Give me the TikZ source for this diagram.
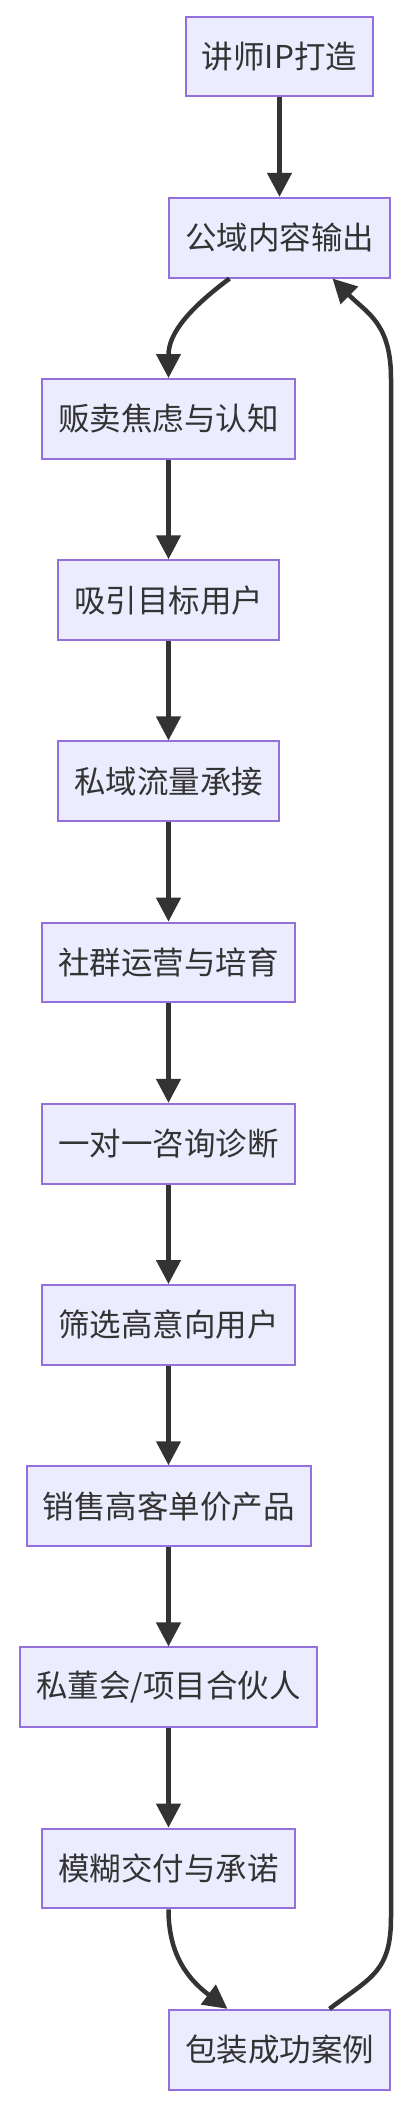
\documentclass[tikz,border=0pt]{standalone}
\usepackage{fontspec}
\setmainfont{Noto Sans CJK SC}
\usetikzlibrary{
  positioning,
  arrows.meta
}
\definecolor{boxfill}{HTML}{ECECFF}
\definecolor{boxline}{HTML}{9370DB}
\definecolor{ink}{HTML}{333333}

\begin{document}
\begin{tikzpicture}[
    x=1pt, y=1pt,
    node distance=99.5pt,
    stage/.style={
      rectangle,
      draw=boxline,
      fill=boxfill,
      line width=2pt,
      text=ink,
      font=\fontsize{31.5pt}{38pt}\selectfont,
      inner xsep=16pt,
      inner ysep=0pt,
      minimum height=79.7pt
    },
    flow/.style={
      draw=ink,
      line width=4.5pt,
      -{Triangle[length=24pt,width=24pt]}
    }
  ]
  \useasboundingbox (0,0) rectangle (408,-2108);

  \begin{scope}
    \node[stage] (ip) at (279.5,-56.5) {讲师IP打造};
    \node[stage, below=of ip] (public) {公域内容输出};
    \node[stage, below=of public, xshift=-111pt] (anxiety) {贩卖焦虑与认知};
    \node[stage, below=of anxiety] (attract) {吸引目标用户};
    \node[stage, below=of attract] (private) {私域流量承接};
    \node[stage, below=of private] (community) {社群运营与培育};
    \node[stage, below=of community] (consult) {一对一咨询诊断};
    \node[stage, below=of consult] (filter) {筛选高意向用户};
    \node[stage, below=of filter] (sell) {销售高客单价产品};
    \node[stage, below=of sell] (board) {私董会/项目合伙人};
    \node[stage, below=of board] (vague) {模糊交付与承诺};
    \node[stage, below=of vague, xshift=111pt] (cases) {包装成功案例};

    \draw[flow] (ip) -- (public);
    \draw[flow] ([xshift=-50pt]public.south) .. controls +(-40,-30) and +(0,45) .. (anxiety.north);
    \draw[flow] (anxiety) -- (attract);
    \draw[flow] (attract) -- (private);
    \draw[flow] (private) -- (community);
    \draw[flow] (community) -- (consult);
    \draw[flow] (consult) -- (filter);
    \draw[flow] (filter) -- (sell);
    \draw[flow] (sell) -- (board);
    \draw[flow] (board) -- (vague);
    \draw[flow] (vague.south) .. controls +(0,-45) and +(-40,30) .. ([xshift=-52pt]cases.north);
    % loop back up the right side
    \draw[flow] ([xshift=50pt]cases.north) .. controls +(42,32) and +(0,-55) .. ([yshift=92pt]cases.north east)
      -- ([yshift=-100pt]public.south east) .. controls +(0,55) and +(35,-35) .. ([xshift=53pt]public.south);
  \end{scope}
\end{tikzpicture}
\end{document}
